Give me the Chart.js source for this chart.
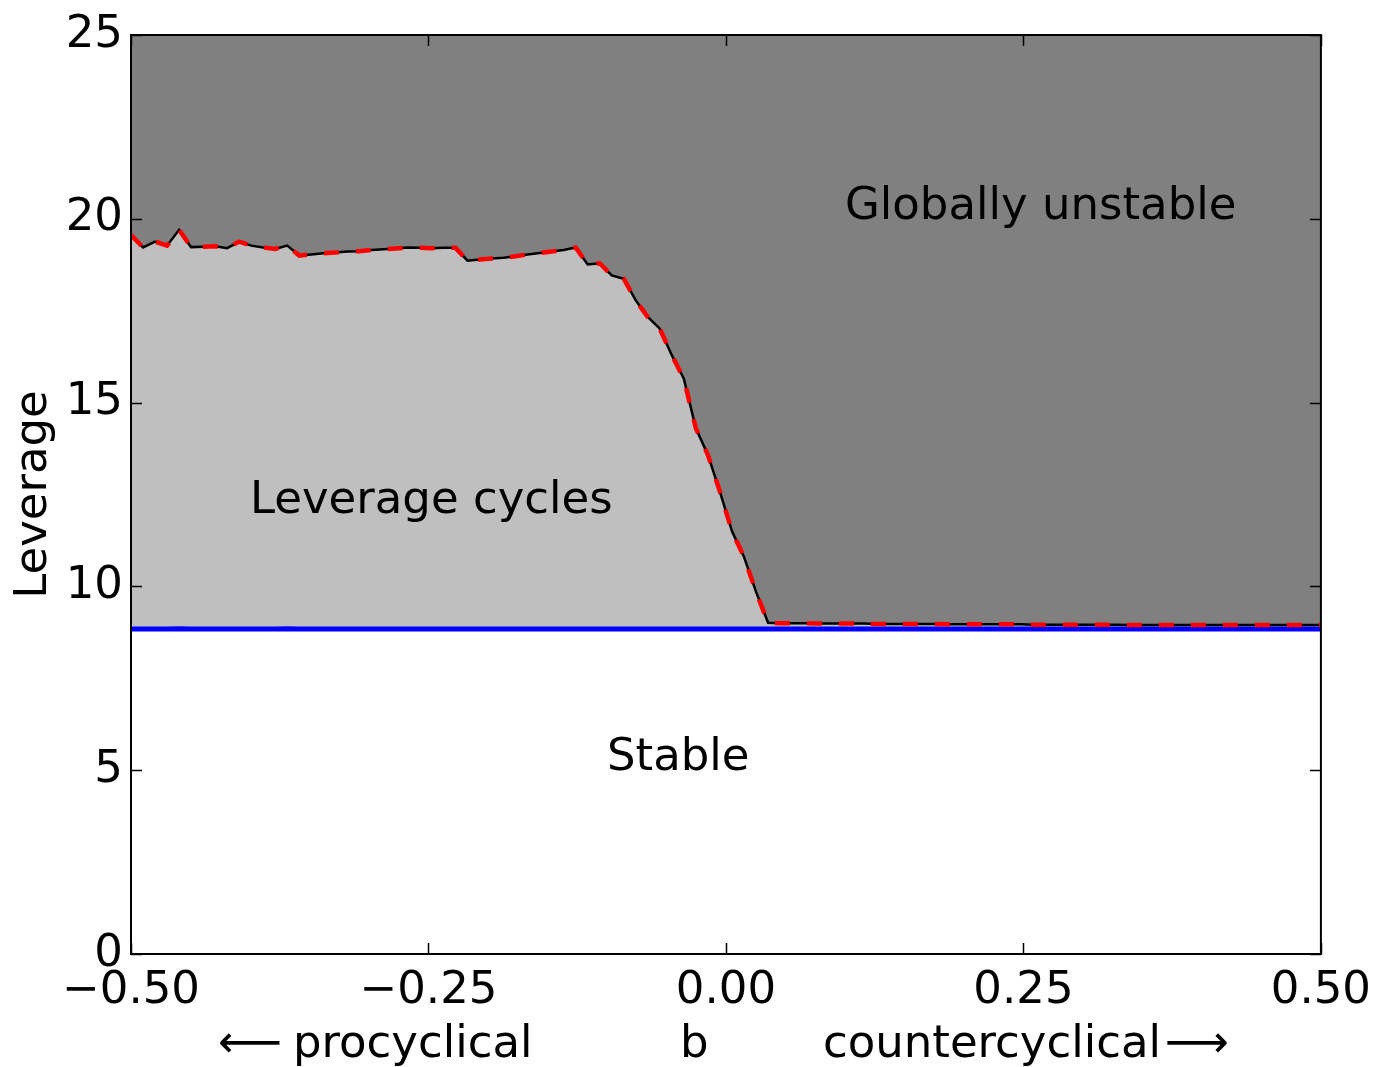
<!DOCTYPE html>
<html>
<head>
<meta charset="utf-8">
<script src="https://cdn.jsdelivr.net/npm/chart.js@4.4.1/dist/chart.umd.min.js"></script>
<style>
  html, body { margin: 0; padding: 0; background: #fff; }
  #wrap { width: 1381px; height: 1067px; position: relative; }
</style>
</head>
<body>
<div id="wrap"><canvas id="chart"></canvas></div>
<script>
// Data
const bValues = [
  -0.5, -0.4899, -0.4798, -0.4697, -0.4596, -0.4495, -0.4394, -0.4293, -0.4192, -0.4091,
  -0.3990, -0.3889, -0.3788, -0.3687, -0.3586, -0.3485, -0.3384, -0.3283, -0.3182, -0.3081,
  -0.2980, -0.2879, -0.2778, -0.2677, -0.2576, -0.2475, -0.2374, -0.2273, -0.2172, -0.2071,
  -0.1970, -0.1869, -0.1768, -0.1667, -0.1566, -0.1465, -0.1364, -0.1263, -0.1162, -0.1061,
  -0.0960, -0.0859, -0.0758, -0.0657, -0.0556, -0.0455, -0.0354, -0.0253, -0.0152, -0.0051,
  0.0051, 0.0152, 0.0253, 0.0354, 0.0455, 0.0556, 0.0657, 0.0758, 0.0859, 0.0960,
  0.1061, 0.1162, 0.1263, 0.1364, 0.1465, 0.1566, 0.1667, 0.1768, 0.1869, 0.1970,
  0.2071, 0.2172, 0.2273, 0.2374, 0.2475, 0.2576, 0.2677, 0.2778, 0.2879, 0.2980,
  0.3081, 0.3182, 0.3283, 0.3384, 0.3485, 0.3586, 0.3687, 0.3788, 0.3889, 0.3990,
  0.4091, 0.4192, 0.4293, 0.4394, 0.4495, 0.4596, 0.4697, 0.4798, 0.4899, 0.5
];

// upper edge of the leverage-cycle region (black line + red dashes)
const unstableEdge = [
  19.56, 19.22, 19.38, 19.27, 19.70, 19.23, 19.24, 19.25, 19.20, 19.38,
  19.27, 19.22, 19.18, 19.27, 19.00, 19.03, 19.06, 19.08, 19.11, 19.12,
  19.15, 19.17, 19.19, 19.22, 19.21, 19.20, 19.21, 19.21, 18.86, 18.89,
  18.92, 18.94, 18.98, 19.03, 19.07, 19.11, 19.15, 19.22, 18.76, 18.79,
  18.46, 18.37, 17.78, 17.33, 17.01, 16.29, 15.65, 14.30, 13.58, 12.58,
  11.50, 10.80, 9.85, 9.01, 9.00, 9.00, 9.00, 8.99, 8.99, 8.99,
  8.99, 8.99, 8.98, 8.98, 8.98, 8.98, 8.98, 8.98, 8.97, 8.97,
  8.97, 8.97, 8.97, 8.97, 8.97, 8.96, 8.96, 8.96, 8.96, 8.96,
  8.96, 8.96, 8.96, 8.95, 8.95, 8.95, 8.95, 8.95, 8.95, 8.95,
  8.95, 8.95, 8.95, 8.95, 8.95, 8.95, 8.95, 8.95, 8.95, 8.95
];

// stability boundary (blue line)
const stableEdge = [
  8.84, 8.84, 8.84, 8.84, 8.85, 8.84, 8.84, 8.84, 8.84, 8.84,
  8.84, 8.84, 8.84, 8.85, 8.84, 8.84, 8.84, 8.84, 8.84, 8.84,
  8.84, 8.84, 8.84, 8.84, 8.84, 8.84, 8.84, 8.84, 8.84, 8.84,
  8.84, 8.84, 8.84, 8.84, 8.84, 8.84, 8.84, 8.84, 8.84, 8.84,
  8.84, 8.84, 8.84, 8.84, 8.84, 8.84, 8.84, 8.84, 8.84, 8.84,
  8.84, 8.84, 8.84, 8.84, 8.84, 8.84, 8.84, 8.84, 8.84, 8.84,
  8.84, 8.84, 8.84, 8.84, 8.84, 8.84, 8.84, 8.84, 8.84, 8.84,
  8.84, 8.84, 8.84, 8.84, 8.84, 8.84, 8.84, 8.84, 8.84, 8.84,
  8.84, 8.84, 8.84, 8.84, 8.84, 8.84, 8.84, 8.84, 8.84, 8.84,
  8.84, 8.84, 8.84, 8.84, 8.84, 8.84, 8.84, 8.84, 8.84, 8.84
];

// Axis ticks
const xTicks = [-0.5, -0.25, 0, 0.25, 0.5];
const xTickLabels = ['\u22120.50', '\u22120.25', '0.00', '0.25', '0.50'];
const yTicks = [0, 5, 10, 15, 20, 25];
const yTickLabels = ['0', '5', '10', '15', '20', '25'];

// x label, in pieces: long arrow, words, long arrow
const xLabelParts = ['\u27F5', 'procyclical', 'b', 'countercyclical', '\u27F6'];

// Region labels (left edge, baseline)
const noteText = ['Globally unstable', 'Leverage cycles', 'Stable'];
const noteB = [0.1, -0.4, -0.1];
const noteLev = [20, 12, 5];

const FONT = 'DejaVu Sans';
const FS = 45;
Chart.defaults.font.family = FONT;
Chart.defaults.font.size = FS;
Chart.defaults.color = '#000';

const toPoints = ys => ys.map((y, i) => ({ x: bValues[i], y: y }));

// Frame, inward ticks on all four sides, region labels and the x label
const framePlugin = {
  id: 'frame',
  afterDatasetsDraw(chart) {
    const { ctx, chartArea: a, scales: { x, y } } = chart;
    const tick = 11;
    ctx.save();
    ctx.strokeStyle = '#000';
    ctx.lineWidth = 1.5;
    ctx.beginPath();
    xTicks.forEach(v => {
      const px = Math.round(x.getPixelForValue(v)) + 0.5;
      ctx.moveTo(px, a.bottom); ctx.lineTo(px, a.bottom - tick);
      ctx.moveTo(px, a.top); ctx.lineTo(px, a.top + tick);
    });
    yTicks.forEach(v => {
      const py = Math.round(y.getPixelForValue(v)) + 0.5;
      ctx.moveTo(a.left, py); ctx.lineTo(a.left + tick, py);
      ctx.moveTo(a.right, py); ctx.lineTo(a.right - tick, py);
    });
    ctx.stroke();
    ctx.lineWidth = 2;
    ctx.strokeRect(a.left, a.top, a.right - a.left, a.bottom - a.top);

    ctx.fillStyle = '#000';
    ctx.font = FS + 'px "' + FONT + '"';
    ctx.textAlign = 'left';
    ctx.textBaseline = 'alphabetic';
    noteText.forEach((t, i) => {
      ctx.fillText(t, x.getPixelForValue(noteB[i]), y.getPixelForValue(noteLev[i]));
    });

    // x label: pieces placed around the axis centre
    const cx = (a.left + a.right) / 2;
    const base = a.bottom + 103;
    const lefts = [cx - 508, cx - 433, cx - 46, cx + 97, cx + 439];
    xLabelParts.forEach((t, i) => {
      if (i === 0 || i === 4) {
        // long arrows drawn a bit wider than the glyph
        const w = ctx.measureText(t).width;
        ctx.save();
        ctx.translate(lefts[i], base);
        ctx.scale(64 / w, 1);
        ctx.fillText(t, 0, 0);
        ctx.restore();
      } else {
        ctx.fillText(t, lefts[i], base);
      }
    });
    ctx.restore();
  }
};

new Chart(document.getElementById('chart'), {
  type: 'line',
  data: {
    datasets: [
      {
        label: 'edge dashed',
        data: toPoints(unstableEdge),
        borderColor: '#ff0000',
        borderWidth: 4.5,
        borderDash: [15, 17],
        pointRadius: 0,
        fill: false,
        order: 0
      },
      {
        label: 'edge',
        data: toPoints(unstableEdge),
        borderColor: '#000000',
        borderWidth: 2.5,
        pointRadius: 0,
        fill: 'end',
        backgroundColor: '#808080',
        order: 1
      },
      {
        label: 'stable',
        data: toPoints(stableEdge),
        borderColor: '#0000ff',
        borderWidth: 5,
        pointRadius: 0,
        fill: 1,
        backgroundColor: '#bfbfbf',
        order: 2
      }
    ]
  },
  options: {
    responsive: true,
    maintainAspectRatio: false,
    animation: false,
    layout: { padding: { left: 0, right: 60, top: 32, bottom: 0 } },
    plugins: {
      legend: { display: false },
      tooltip: { enabled: false }
    },
    elements: { line: { tension: 0 } },
    scales: {
      x: {
        type: 'linear',
        min: -0.5,
        max: 0.5,
        grid: { display: false, drawTicks: false },
        border: { display: false },
        afterBuildTicks: s => { s.ticks = xTicks.map(v => ({ value: v })); },
        afterFit: s => { s.height = 113; },
        ticks: {
          padding: 10,
          maxRotation: 0,
          autoSkip: false,
          callback: (v) => xTickLabels[xTicks.indexOf(v)]
        }
      },
      y: {
        min: 0,
        max: 25,
        grid: { display: false, drawTicks: false },
        border: { display: false },
        afterBuildTicks: s => { s.ticks = yTicks.map(v => ({ value: v })); },
        afterFit: s => { s.width = 131; },
        ticks: {
          padding: 8,
          autoSkip: false,
          callback: (v) => yTickLabels[yTicks.indexOf(v)]
        },
        title: {
          display: true,
          text: 'Leverage',
          font: { size: FS },
          padding: { top: 7, bottom: 0 }
        }
      }
    }
  },
  plugins: [framePlugin]
});
</script>
</body>
</html>
